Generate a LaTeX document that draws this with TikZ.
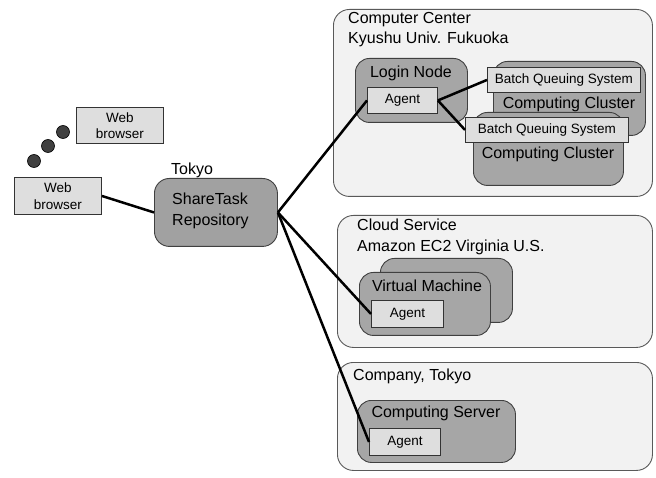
\documentclass[tikz,border=0pt]{standalone}
\usepackage{fontspec}
\setmainfont{Liberation Sans}
\begin{document}
\begin{tikzpicture}[x=1pt,y=-1pt,
  site/.style={draw=black!65, fill=black!5, rounded corners=16pt, line width=0.9pt, inner sep=0pt},
  mach/.style={draw=black!75, fill=black!35, rounded corners=14pt, line width=0.9pt, inner sep=0pt},
  lbox/.style={draw=black!80, fill=black!13, line width=0.9pt, inner sep=0pt, font=\fontsize{13.5}{16.5}\selectfont, align=center},
  conn/.style={line width=2.5pt, black},
  lbl/.style={inner sep=0pt, font=\fontsize{16}{20.5}\selectfont, align=left},
  dot/.style={circle, fill=black!75, draw=black, line width=0.6pt, minimum size=13pt, inner sep=0pt}
]
\useasboundingbox (0,0) rectangle (656,478);
% sites
\node[site, anchor=north west, minimum width=319pt, minimum height=187pt] (cc) at (333,9) {};
\node[site, anchor=north west, minimum width=315pt, minimum height=132pt] (cloud) at (337,215) {};
\node[site, anchor=north west, minimum width=315pt, minimum height=108pt] (comp) at (337,362) {};
\node[lbl, anchor=north west] (cctext) at (348,12) {Computer Center\\Kyushu Univ. Fukuoka};
\node[lbl, anchor=north west] (cloudtext) at (357,219) {Cloud Service\\Amazon EC2 Virginia U.S.};
\node[lbl, anchor=north west] (comptext) at (353,369) {Company, Tokyo};
% login node
\node[mach, anchor=north west, minimum width=112pt, minimum height=64pt] (login) at (355,58) {};
\node[lbl, anchor=center] (logintext) at (411,73) {Login Node};
\node[lbox, anchor=north west, minimum width=70pt, minimum height=26pt] (agL) at (367,87) {Agent};
% clusters
\node[mach, anchor=north west, minimum width=152pt, minimum height=74pt] (cl1) at (493,61) {};
\node[lbox, anchor=north west, minimum width=153pt, minimum height=25pt] (bq1) at (487,67) {Batch Queuing System};
\node[lbl, anchor=center] (cl1text) at (569,104) {Computing Cluster};
\node[mach, anchor=north west, minimum width=150pt, minimum height=73pt] (cl2) at (473,112) {};
\node[lbox, anchor=north west, minimum width=163pt, minimum height=25pt] (bq2) at (465,117) {Batch Queuing System};
\node[lbl, anchor=center] (cl2text) at (548,154) {Computing Cluster};
% virtual machines
\node[mach, anchor=north west, minimum width=132pt, minimum height=64pt] (vm2) at (380,258) {};
\node[mach, anchor=north west, minimum width=131pt, minimum height=63pt] (vm1) at (359,272) {};
\node[lbl, anchor=center] (vmtext) at (427,286) {Virtual Machine};
\node[lbox, anchor=north west, minimum width=72pt, minimum height=27pt] (agV) at (371,300) {Agent};
% computing server
\node[mach, anchor=north west, minimum width=158pt, minimum height=62pt] (cs) at (357,400) {};
\node[lbl, anchor=center] (cstext) at (436,413) {Computing Server};
\node[lbox, anchor=north west, minimum width=71pt, minimum height=27pt] (agC) at (369,428) {Agent};
% left side
\node[lbox, anchor=north west, minimum width=87pt, minimum height=36pt] (wb1) at (76,107) {Web\\browser};
\node[lbox, anchor=north west, minimum width=87pt, minimum height=37pt] (wb2) at (14,177) {Web\\browser};
\node[dot] (d1) at (63,132) {};
\node[dot] (d2) at (48,146) {};
\node[dot] (d3) at (34,161) {};
\node[draw=black!75, fill=black!37, rounded corners=15pt, line width=0.9pt, anchor=north west, minimum width=123pt, minimum height=68pt, inner sep=0pt] (repo) at (154,178) {};
\node[lbl, anchor=west] (repotext) at (172,211) {ShareTask\\Repository};
\node[lbl, anchor=center] (tokyo) at (192,170) {Tokyo};
% connectors
\draw[conn] (wb2.east) -- (repo.west);
\draw[conn] (repo.east) -- (agL.west);
\draw[conn] (repo.east) -- (agV.west);
\draw[conn] (repo.east) -- (agC.west);
\draw[conn] (agL.east) -- (bq1.west);
\draw[conn] (agL.east) -- (bq2.west);
\end{tikzpicture}
\end{document}
